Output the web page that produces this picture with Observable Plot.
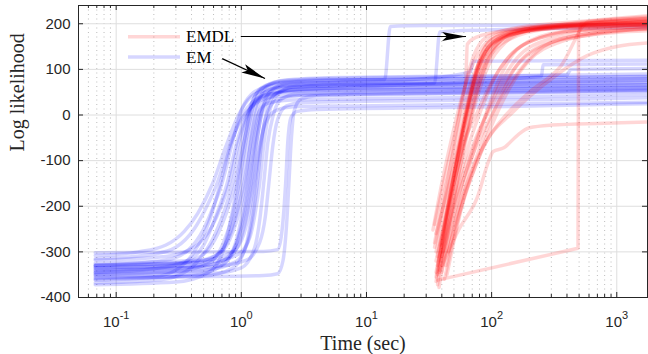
<!DOCTYPE html>
<html><head><meta charset="utf-8">
<script src="https://cdn.jsdelivr.net/npm/d3@7"></script>
<script src="https://cdn.jsdelivr.net/npm/@observablehq/plot@0.6"></script>
<style>html,body{margin:0;padding:0;background:#fff;}#chart{width:648px;height:354px;}</style>
</head><body><div id="chart"></div>
<script>
// ---------- data ----------
const yTicks = [-400, -300, -200, -100, 0, 100, 200];
const xMajorTicks = [0.1, 1, 10, 100, 1000];
const xMinorTicks = [0.05,0.06,0.07,0.08,0.09,0.2,0.3,0.4,0.5,0.6,0.7,0.8,0.9,2,3,4,5,6,7,8,9,20,30,40,50,60,70,80,90,200,300,400,500,600,700,800,900];
const legendLabels = ["EMDL", "EM"];
const xLabel = "Time (sec)";
const yLabel = "Log likelihood";

// EM runs: [time (sec), log likelihood]
const emRuns = [
 [[0.068,-308],[0.15,-300],[0.25,-285],[0.35,-255],[0.45,-215],[0.59,-150],[0.75,-70],[0.95,0],[1.2,40],[1.6,55],[3,62],[30,66],[300,68],[1800,70]],
 [[0.068,-315],[0.2,-305],[0.3,-290],[0.42,-250],[0.52,-205],[0.64,-150],[0.8,-70],[1.0,-10],[1.3,25],[1.8,40],[4,45],[50,50],[1800,55]],
 [[0.068,-330],[0.25,-318],[0.38,-295],[0.5,-250],[0.6,-200],[0.7,-150],[0.85,-60],[1.0,10],[1.2,45],[1.6,62],[3,70],[40,74],[1800,80]],
 [[0.068,-345],[0.2,-337],[0.35,-322],[0.5,-285],[0.62,-225],[0.77,-150],[0.92,-60],[1.1,0],[1.4,35],[2,50],[5,55],[100,58],[1800,62]],
 [[0.068,-368],[0.2,-362],[0.29,-355],[0.45,-320],[0.62,-260],[0.85,-150],[1.0,-60],[1.15,10],[1.35,50],[1.8,68],[4,75],[80,80],[1800,85]],
 [[0.068,-335],[0.3,-328],[0.5,-305],[0.65,-260],[0.77,-210],[0.9,-150],[1.05,-60],[1.2,10],[1.45,45],[2,60],[5,65],[60,68],[1800,72]],
 [[0.068,-350],[0.3,-343],[0.55,-325],[0.72,-280],[0.85,-220],[0.96,-150],[1.1,-50],[1.25,20],[1.5,60],[2,74],[5,80],[50,84],[1800,90]],
 [[0.068,-332],[0.4,-325],[0.65,-305],[0.82,-260],[0.94,-205],[1.05,-150],[1.2,-60],[1.35,0],[1.6,25],[2.2,32],[6,35],[200,40],[1800,45]],
 [[0.068,-360],[0.4,-352],[0.7,-330],[0.9,-280],[1.02,-215],[1.12,-150],[1.25,-60],[1.4,10],[1.7,50],[2.3,66],[6,72],[30,80],[68,95],[71,118],[1800,120]],
 [[0.068,-340],[0.45,-333],[0.75,-315],[0.95,-270],[1.08,-215],[1.19,-150],[1.32,-60],[1.47,5],[1.75,40],[2.4,55],[6,60],[250,85],[258,110],[1800,112]],
 [[0.068,-325],[0.5,-318],[0.85,-300],[1.05,-260],[1.16,-210],[1.26,-150],[1.38,-80],[1.55,-20],[1.9,10],[2.6,18],[8,20],[300,25],[1800,28]],
 [[0.068,-345],[0.5,-340],[0.9,-322],[1.12,-280],[1.24,-220],[1.34,-150],[1.45,-60],[1.6,10],[1.9,48],[2.6,60],[7,65],[100,70],[1800,76]],
 [[0.068,-352],[0.6,-347],[1.0,-335],[1.28,-290],[1.41,-225],[1.51,-150],[1.63,-60],[1.8,0],[2.1,35],[2.8,46],[8,50],[100,54],[1800,58]],
 [[0.068,-338],[0.6,-332],[1.1,-318],[1.4,-280],[1.56,-220],[1.66,-150],[1.78,-70],[1.95,-10],[2.3,20],[3,27],[10,30],[300,34],[1800,38]],
 [[0.068,-302],[0.5,-300],[1.5,-299],[1.95,-295],[2.1,-260],[2.2,-200],[2.26,-150],[2.35,-60],[2.5,-5],[2.8,8],[4,12],[100,18],[1800,25]],
 [[0.068,-355],[0.5,-354],[1.5,-352],[1.95,-348],[2.15,-320],[2.3,-240],[2.4,-150],[2.5,-60],[2.65,10],[3,35],[4,42],[100,48],[1800,52]],
 [[0.068,-318],[0.25,-310],[0.42,-290],[0.58,-245],[0.69,-200],[0.8,-150],[0.95,-60],[1.12,0],[1.4,38],[2,52],[5,58],[80,62],[1800,66]],
 [[0.068,-372],[0.3,-366],[0.55,-345],[0.72,-295],[0.83,-225],[0.93,-150],[1.07,-50],[1.2,20],[1.45,60],[2,72],[5,77],[14,78],[15.5,194],[30,196],[1800,198]],
 [[0.068,-342],[0.35,-335],[0.6,-315],[0.78,-270],[0.9,-215],[1.0,-150],[1.14,-55],[1.28,10],[1.55,50],[2.1,63],[5,68],[35,70],[38.5,182],[80,186],[1800,192]],
 [[0.068,-330],[0.4,-322],[0.68,-302],[0.86,-255],[0.98,-205],[1.08,-150],[1.2,-50],[1.35,20],[1.6,62],[2.2,76],[6,82],[400,88],[430,100],[1800,102]],
 [[0.068,-348],[0.45,-342],[0.75,-322],[0.93,-275],[1.05,-215],[1.15,-150],[1.28,-60],[1.42,0],[1.7,40],[2.3,53],[6,58],[100,62],[1800,66]],
 [[0.068,-335],[0.5,-330],[0.8,-312],[1.0,-268],[1.12,-212],[1.22,-150],[1.34,-55],[1.48,15],[1.75,55],[2.4,70],[6,75],[100,80],[1800,84]],
 [[0.068,-358],[0.5,-353],[0.85,-336],[1.08,-290],[1.2,-225],[1.3,-150],[1.42,-65],[1.57,-5],[1.85,30],[2.5,41],[7,45],[200,50],[1800,54]],
 [[0.068,-328],[0.55,-322],[0.95,-305],[1.18,-265],[1.3,-210],[1.4,-150],[1.52,-60],[1.67,5],[1.95,45],[2.6,62],[7,68],[100,72],[1800,78]],
 [[0.068,-362],[0.2,-355],[0.3,-340],[0.42,-300],[0.55,-235],[0.68,-150],[0.82,-65],[1.0,-5],[1.25,30],[1.7,46],[4,52],[60,56],[1800,60]]
];

// EMDL runs: [time (sec), log likelihood]
const emdlRuns = [
 [[36,-365],[45,-200],[55,-80],[64,10],[75,90],[90,140],[120,170],[200,190],[500,198],[1800,203]],
 [[37,-372],[46,-200],[56,-70],[65,20],[78,100],[95,145],[130,172],[250,188],[800,195],[1800,198]],
 [[36,-355],[44,-210],[54,-80],[63,15],[72,80],[85,130],[110,165],[200,185],[600,195],[1800,200]],
 [[38,-378],[48,-210],[58,-90],[67,0],[80,80],[100,135],[150,170],[300,190],[900,200],[1800,205]],
 [[34,-252],[40,-150],[48,-50],[58,40],[68,100],[85,150],[120,180],[250,195],[1800,205]],
 [[35,-280],[42,-170],[52,-60],[62,30],[75,100],[95,150],[140,180],[300,195],[1800,210]],
 [[37,-330],[47,-190],[60,-60],[75,0],[95,60],[130,120],[200,160],[500,185],[1800,192]],
 [[40,-345],[52,-200],[68,-90],[88,-10],[110,40],[150,100],[250,150],[600,175],[1800,185]],
 [[36,-300],[44,-180],[55,-60],[66,30],[80,110],[100,155],[150,180],[400,195],[1800,200]],
 [[38,-340],[50,-190],[65,-70],[82,10],[105,80],[140,130],[250,170],[700,192],[1800,198]],
 [[42,-360],[55,-220],[72,-110],[95,-20],[118,40],[160,110],[300,160],[800,182],[1800,188]],
 [[35,-290],[43,-170],[52,-40],[58,30],[62,70],[64,155],[75,170],[150,188],[500,200],[1800,208]],
 [[39,-320],[50,-180],[62,-60],[75,30],[95,110],[130,160],[200,185],[600,200],[1800,212]],
 [[36,-260],[45,-160],[57,-50],[70,40],[85,110],[110,155],[170,185],[400,200],[1800,215]],
 [[44,-350],[58,-200],[80,-90],[105,-10],[140,60],[200,120],[350,160],[900,182],[1800,190]],
 [[37,-310],[48,-170],[62,-40],[78,60],[98,130],[130,170],[250,190],[800,200],[1800,205]],
 [[41,-300],[55,-170],[75,-70],[100,0],[120,40],[170,100],[260,150],[500,175],[1800,190]],
 [[38,-345],[55,-250],[77,-180],[95,-100],[103,-80],[125,-72],[160,-45],[200,-28],[300,-22],[800,-18],[1800,-15]],
 [[40,-330],[55,-200],[75,-100],[100,-40],[140,0],[200,40],[320,85],[580,130],[1000,150],[1800,158]],
 [[37,-362],[490,-292],[495,180],[520,200],[800,205],[1800,207]],
 [[36,-320],[46,-180],[58,-40],[70,60],[82,130],[100,165],[160,185],[500,197],[1800,200]],
 [[39,-285],[50,-150],[65,-30],[80,70],[100,140],[140,175],[300,192],[1800,198]],
 [[43,-330],[57,-180],[78,-50],[98,30],[125,100],[170,150],[350,182],[1800,194]],
 [[35,-240],[42,-140],[52,-30],[62,70],[72,130],[90,170],[150,190],[500,205],[1800,218]],
 [[37,-350],[46,-190],[57,-50],[68,50],[80,120],[100,165],[180,188],[700,198],[1800,201]],
 [[40,-310],[53,-170],[70,-70],[90,0],[118,70],[160,125],[280,165],[800,188],[1800,195]],
 [[45,-300],[62,-170],[90,-60],[130,0],[200,50],[355,106],[600,205],[1000,210],[1800,212]],
 [[36,-345],[45,-200],[54,-90],[62,-10],[72,60],[88,125],[115,165],[250,188],[1800,197]]
];
// runs that were recorded with long straight jumps (drawn without smoothing)
const emdlStraightRuns = [19];

// ---------- drawing ----------
const flatten = runs => runs.flatMap((r, i) => r.map(([t, v]) => ({run: i, t, v})));
const emData = flatten(emRuns);
const emdlData = flatten(emdlRuns);
const emdlSmooth = emdlData.filter(d => !emdlStraightRuns.includes(d.run));
const emdlStraight = emdlData.filter(d => emdlStraightRuns.includes(d.run));

const W = 648, H = 354, mL = 78, mR = 1, mT = 5, mB = 57;
const ph = H - mT - mB, pw = W - mL - mR;
const ink = "#262626";
const serif = "'Liberation Serif', 'Times New Roman', serif";
const BLUE = "#0000ff", RED = "#ff0000", OP = 0.16, LW = 3.5;
const lineStyle = {x: "t", y: "v", z: "run", strokeOpacity: OP, strokeWidth: LW,
  strokeLinejoin: "round", strokeLinecap: "round", clip: true};

const plot = Plot.plot({
  width: W, height: H,
  marginLeft: mL, marginRight: mR, marginTop: mT, marginBottom: mB,
  x: {type: "log", domain: [0.05, 1760]},
  y: {domain: [-400, 240]},
  style: {fontFamily: "'Liberation Sans', Arial, sans-serif", background: "#fff", color: ink},
  marks: [
    Plot.ruleX(xMinorTicks, {stroke: "#bcbcbc", strokeDasharray: "1,3.5"}),
    Plot.ruleX(xMajorTicks, {stroke: "#dedede"}),
    Plot.ruleY(yTicks, {stroke: "#dedede"}),
    Plot.line(emData, {...lineStyle, stroke: BLUE, curve: "monotone-x"}),
    Plot.line(emdlSmooth, {...lineStyle, stroke: RED, curve: "monotone-x"}),
    Plot.line(emdlStraight, {...lineStyle, stroke: RED, curve: "linear"}),
    Plot.frame({stroke: ink}),
    Plot.tickX(xMajorTicks, {x: d => d, insetTop: ph - 5, stroke: ink}),
    Plot.tickX(xMajorTicks, {x: d => d, insetBottom: ph - 5, stroke: ink}),
    Plot.tickX(xMinorTicks, {x: d => d, insetTop: ph - 3, stroke: ink}),
    Plot.tickX(xMinorTicks, {x: d => d, insetBottom: ph - 3, stroke: ink}),
    Plot.tickY(yTicks, {y: d => d, insetRight: pw - 5, stroke: ink}),
    Plot.tickY(yTicks, {y: d => d, insetLeft: pw - 5, stroke: ink}),
    Plot.axisY({ticks: yTicks, tickSize: 0, tickPadding: 8, tickFormat: d => String(d),
      fontSize: 15, fill: ink, label: null}),
    Plot.axisX({ticks: xMajorTicks, tickSize: 0, tickPadding: 19,
      tickFormat: d => "10^" + Math.round(Math.log10(d)), fontSize: 15, fill: ink, label: null}),
    Plot.text([xLabel], {text: d => d, frameAnchor: "bottom", dy: 52, fontFamily: serif, fontSize: 20, fill: ink}),
    Plot.text([yLabel], {text: d => d, frameAnchor: "left", dx: -60.5, rotate: -90, fontFamily: serif, fontSize: 20, fill: ink})
  ]
});

// superscript exponents on the x tick labels
d3.select(plot).selectAll("text").each(function() {
  const m = /^10\^(-?\d+)$/.exec(this.textContent);
  if (!m) return;
  this.textContent = "10";
  d3.select(this).append("tspan").attr("dy", "-8").attr("font-size", 11).text(m[1]);
});

// legend and annotation arrows
const sx = plot.scale("x"), sy = plot.scale("y");
const svg = d3.select(plot);
const ann = svg.append("g");
const legendColors = [RED, BLUE];
legendLabels.forEach((lab, i) => {
  const yy = 36.7 + i * 20.3;
  ann.append("line").attr("x1", 128).attr("x2", 180).attr("y1", yy).attr("y2", yy)
    .attr("stroke", legendColors[i]).attr("stroke-opacity", OP).attr("stroke-width", LW);
  ann.append("text").attr("x", 186).attr("y", yy + 5.5).attr("font-family", serif)
    .attr("text-anchor", "start").attr("font-size", 17).attr("fill", "#000").text(lab);
});
function arrow(from, to) {
  const x1 = sx.apply(from[0]), y1 = sy.apply(from[1]);
  const x2 = sx.apply(to[0]), y2 = sy.apply(to[1]);
  const a = Math.atan2(y2 - y1, x2 - x1) * 180 / Math.PI;
  ann.append("line").attr("x1", x1).attr("y1", y1).attr("x2", x2).attr("y2", y2)
    .attr("stroke", "#000").attr("stroke-width", 1.2);
  ann.append("path").attr("d", "M0,0L-24,-4.5L-19,0L-24,4.5Z").attr("fill", "#000")
    .attr("transform", `translate(${x2},${y2}) rotate(${a})`);
}
arrow([1.0, 171], [63, 171]);
arrow([0.71, 122.5], [1.56, 78.8]);

document.getElementById("chart").appendChild(plot);
</script>
</body></html>
